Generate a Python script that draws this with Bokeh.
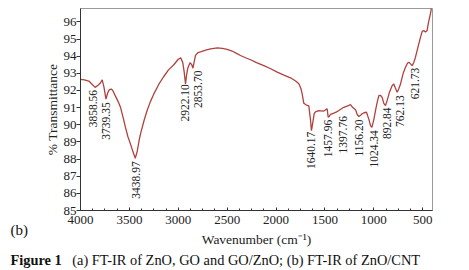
import math
import numpy as np
from bokeh.plotting import figure
from bokeh.models import Range1d, Title, ColumnDataSource, SingleIntervalTicker
from bokeh.core.properties import value
from bokeh.embed import file_html
from bokeh.resources import INLINE

# Spectrum (wavenumber in cm-1, % transmittance)
wavenumber = [4000, 3960, 3915, 3880, 3850, 3820, 3795, 3778, 3760, 3740, 3722, 3705,
              3685, 3670, 3645, 3615, 3590, 3565, 3540, 3515, 3490, 3465, 3440, 3420,
              3400, 3385, 3350, 3318, 3285, 3250, 3200, 3150, 3100, 3046, 3000, 2975,
              2955, 2940, 2926, 2915, 2903, 2880, 2862, 2850, 2840, 2824, 2800, 2773,
              2720, 2670, 2600, 2550, 2500, 2450, 2400, 2364, 2300, 2261, 2200, 2125,
              2060, 1988, 1920, 1852, 1800, 1767, 1745, 1733, 1716, 1690, 1665, 1648,
              1638, 1625, 1610, 1597, 1563, 1512, 1477, 1467, 1455, 1443, 1409, 1380,
              1358, 1307, 1260, 1239, 1215, 1187, 1170, 1153, 1135, 1119, 1100, 1075,
              1050, 1034, 1020, 1000, 983, 966, 949, 932, 915, 898, 881, 864, 840, 812,
              796, 780, 761, 745, 727, 700, 676, 655, 642, 625, 608, 590, 574, 550, 523,
              505, 489, 472, 455, 440, 421, 410, 400]
transmittance = [92.65, 92.62, 92.55, 92.35, 92.18, 92.3, 92.45, 92.62, 92.2, 91.5, 91.85, 92.05,
                 92.08, 92.0, 91.7, 91.35, 91.0, 90.45, 89.85, 89.3, 88.9, 88.45, 88.05, 88.45,
                 89.1, 89.5, 90.25, 90.85, 91.35, 91.8, 92.35, 92.8, 93.2, 93.5, 93.82, 93.9,
                 93.65, 93.1, 92.38, 92.9, 93.3, 93.62, 93.5, 93.3, 93.6, 94.05, 94.2, 94.25,
                 94.35, 94.43, 94.48, 94.45, 94.4, 94.3, 94.15, 94.04, 93.88, 93.79, 93.62, 93.45,
                 93.28, 93.07, 92.9, 92.74, 92.55, 92.39, 92.1, 91.8, 91.25, 91.15, 91.1, 90.3,
                 89.66, 90.1, 90.65, 90.75, 90.83, 90.8, 90.93, 90.44, 90.5, 90.6, 90.68, 90.75,
                 90.83, 91.02, 91.12, 91.18, 91.0, 90.87, 90.6, 90.48, 90.55, 90.64, 90.7, 90.73,
                 90.3, 89.95, 89.85, 90.3, 90.83, 91.3, 91.7, 91.72, 91.6, 91.25, 91.12, 91.41, 91.9, 92.29,
                 92.38, 92.15, 91.9, 92.1, 92.38, 93.0, 93.35, 93.6, 93.64, 93.55, 93.45, 93.65, 93.94, 94.5, 95.1,
                 95.45, 95.5, 95.4, 95.5, 96.0, 96.47, 96.85, 97.2]

# Peak annotations
peak_positions = [3858.56, 3739.35, 3438.97, 2922.10, 2853.70, 1640.17, 1457.96,
                  1397.76, 1156.20, 1024.34, 892.84, 762.13, 621.73]
peak_labels = ["3858.56", "3739.35", "3438.97", "2922.10", "2853.70", "1640.17", "1457.96",
               "1397.76", "1156.20", "1024.34", "892.84", "762.13", "621.73"]
label_shift_px = [-1, 0.5, 1, -1, 5.5, 0, -1, 8, 0, 3, 3, 3, 4.5]

x_ticks_interval = 500
y_ticks_interval = 1

SERIF = "'Liberation Serif', 'Times New Roman', serif"

p = figure(width=469, height=270, output_backend="svg", toolbar_location=None,
           x_range=Range1d(4000, 400), y_range=Range1d(85, 96.78),
           min_border_left=80, min_border_right=37, min_border_top=8, min_border_bottom=60)
p.background_fill_color = "white"
p.border_fill_color = "white"
p.outline_line_color = "#9a9a9a"
p.xgrid.visible = False
p.ygrid.visible = False

p.line(wavenumber, transmittance, line_color="#b0413e", line_width=1.3)

# labels below each band
wn_asc = np.array(wavenumber[::-1], dtype=float)
tr_asc = np.array(transmittance[::-1], dtype=float)
label_y = [float(np.interp(w, wn_asc, tr_asc)) - 0.2 for w in peak_positions]
src = ColumnDataSource(dict(x=peak_positions, y=label_y, t=peak_labels, xo=label_shift_px))
p.text(x="x", y="y", text="t", x_offset="xo", source=src, angle=math.pi / 2,
       text_align="right", text_baseline="middle",
       text_font=value(SERIF), text_font_size="11.5px", text_color="#222222")

# axes
for ax in (p.xaxis[0], p.yaxis[0]):
    ax.axis_line_color = "#333333"
    ax.major_tick_line_color = "#333333"
    ax.minor_tick_line_color = "#333333"
    ax.major_label_text_font = SERIF
    ax.major_label_text_font_size = "13px"
    ax.major_label_text_color = "#222222"
    ax.axis_label_text_font = SERIF
    ax.axis_label_text_font_size = "13.5px"
    ax.axis_label_text_font_style = "normal"
    ax.axis_label_text_color = "#222222"

p.xaxis.ticker = SingleIntervalTicker(interval=x_ticks_interval, num_minor_ticks=4)
p.xaxis.major_tick_in = 3
p.xaxis.major_tick_out = 0
p.xaxis.minor_tick_in = 2
p.xaxis.minor_tick_out = 0
p.xaxis.major_label_standoff = 5
p.xaxis.axis_label = "Wavenumber (cm\u207b\u00b9)"
p.xaxis.axis_label_standoff = 5

p.yaxis.ticker = SingleIntervalTicker(interval=y_ticks_interval, num_minor_ticks=0)
p.yaxis.major_tick_in = 0
p.yaxis.major_tick_out = 4
p.yaxis.major_label_standoff = 0
p.yaxis.axis_label = "% Transmittance"
p.yaxis.axis_label_standoff = 1

# panel tag and figure caption, as zero-height titles under the axis
def caption(text, offset, standoff, size, valign, bold=False):
    return Title(text=text, align="left", offset=offset, standoff=standoff,
                 vertical_align=valign, text_font=SERIF, text_font_size=size,
                 text_font_style="bold" if bold else "normal", text_color="#111111")

p.add_layout(caption("(b)", -70, -56, "15px", "top"), "below")
p.add_layout(caption("Figure 1", -70, -36, "14.4px", "bottom", bold=True), "below")
p.add_layout(caption("(a) FT-IR of ZnO, GO and GO/ZnO; (b) FT-IR of ZnO/CNT", -8.3, -36,
                     "14.4px", "bottom"), "below")

open("out.html", "w").write(file_html(p, INLINE))
